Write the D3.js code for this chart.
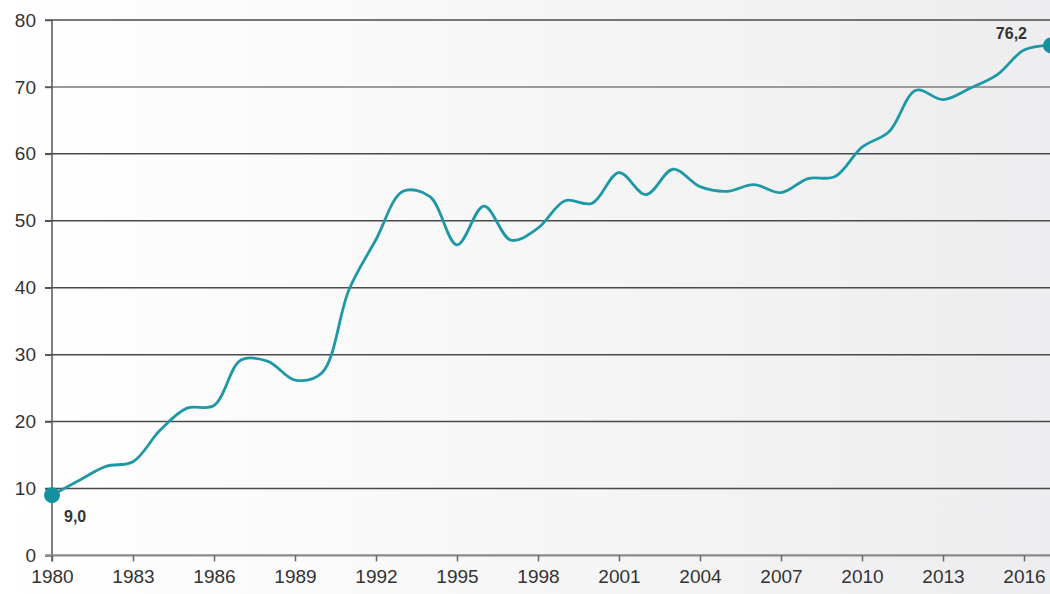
<!DOCTYPE html>
<html>
<head>
<meta charset="utf-8">
<script src="https://cdn.jsdelivr.net/npm/d3@7"></script>
<style>
  html, body { margin: 0; padding: 0; background: #fff; }
  svg { display: block; }
</style>
</head>
<body>
<svg id="chart" width="1050" height="594"></svg>
<script>
const years = [1980,1981,1982,1983,1984,1985,1986,1987,1988,1989,1990,1991,1992,1993,1994,1995,1996,1997,1998,1999,2000,2001,2002,2003,2004,2005,2006,2007,2008,2009,2010,2011,2012,2013,2014,2015,2016,2017];
const values = [9.0,11.2,13.3,14.0,18.7,22.0,22.4,29.2,29.0,26.2,27.3,39.7,47.2,54.4,53.6,46.4,52.2,47.1,48.9,53.0,52.6,57.2,53.9,57.7,55.1,54.4,55.4,54.2,56.3,56.6,61.0,63.3,69.5,68.1,69.8,71.8,75.5,76.2];
const yTicks = [0,10,20,30,40,50,60,70,80];
const xTicks = [1980,1983,1986,1989,1992,1995,1998,2001,2004,2007,2010,2013,2016];
const endLabels = [{year:1980, value:9.0, text:"9,0"}, {year:2017, value:76.2, text:"76,2"}];

const W = 1050, H = 594;
const svg = d3.select("#chart");
const defs = svg.append("defs");
const grad = defs.append("linearGradient").attr("id","bg").attr("x1","0").attr("x2","1").attr("y1","0").attr("y2","0");
grad.append("stop").attr("offset","0%").attr("stop-color","#ffffff");
grad.append("stop").attr("offset","25%").attr("stop-color","#fbfbfb");
grad.append("stop").attr("offset","100%").attr("stop-color","#ededef");
svg.append("rect").attr("width",W).attr("height",H).attr("fill","url(#bg)");

const x = d3.scaleLinear().domain([1980, 2017]).range([52, 1051]);
const y = d3.scaleLinear().domain([0, 80]).range([555.4, 20]);

const font = "'Liberation Sans', Arial, Helvetica, sans-serif";

// gridlines
const grid = svg.append("g");
yTicks.forEach(t => {
  if (t === 0) return;
  grid.append("line")
    .attr("x1", 45).attr("x2", W)
    .attr("y1", y(t)).attr("y2", y(t))
    .attr("stroke", t === 70 ? "#9a9a9a" : "#4a4a4a")
    .attr("stroke-width", t === 70 ? 2 : 1.5);
});

// y axis
const yAxis = d3.axisLeft(y).tickValues(yTicks).tickSize(7).tickPadding(9).tickFormat(d3.format("d"));
const gy = svg.append("g").attr("transform", "translate(52,0)").call(yAxis);
gy.select(".domain").attr("stroke","#555").attr("stroke-width",1.5).attr("d", `M0,${y(80)}V${y(0)+6}`);
gy.selectAll(".tick line").attr("stroke","#555").attr("stroke-width",1.5);
gy.selectAll(".tick text").attr("font-family", font).attr("font-size", 19).attr("fill","#333");

// x axis
const xAxis = d3.axisBottom(x).tickValues(xTicks).tickSize(6).tickPadding(8).tickFormat(d3.format("d"));
const gx = svg.append("g").attr("transform", `translate(0,${y(0)})`).call(xAxis);
gx.select(".domain").attr("stroke","#8a8a8a").attr("stroke-width",2.2).attr("d", `M45,0H${W}`);
gx.selectAll(".tick line").attr("stroke","#666").attr("stroke-width",1.5);
gx.selectAll(".tick text").attr("font-family", font).attr("font-size", 19).attr("fill","#333");

// line
const data = years.map((yr, i) => ({year: yr, value: values[i]}));
const line = d3.line().x(d => x(d.year)).y(d => y(d.value)).curve(d3.curveCatmullRom.alpha(0.5));
svg.append("path").datum(data)
  .attr("d", line)
  .attr("fill","none")
  .attr("stroke","#1f98a5")
  .attr("stroke-width",2.8)
  .attr("stroke-linejoin","round");

// end dots
svg.selectAll("circle.end").data(endLabels).enter().append("circle")
  .attr("class","end")
  .attr("cx", d => x(d.year)).attr("cy", d => y(d.value)).attr("r", 8)
  .attr("fill","#13919f");

svg.selectAll("text.lbl").data(endLabels).enter().append("text")
  .attr("class","lbl")
  .attr("x", d => d.year === 1980 ? x(d.year) + 12 : x(d.year) - 24)
  .attr("y", d => d.year === 1980 ? y(d.value) + 27 : y(d.value) - 6)
  .attr("text-anchor", d => d.year === 1980 ? "start" : "end")
  .attr("font-family", font).attr("font-weight","bold").attr("font-size", 16)
  .attr("fill","#333")
  .text(d => d.text);
</script>
</body>
</html>
